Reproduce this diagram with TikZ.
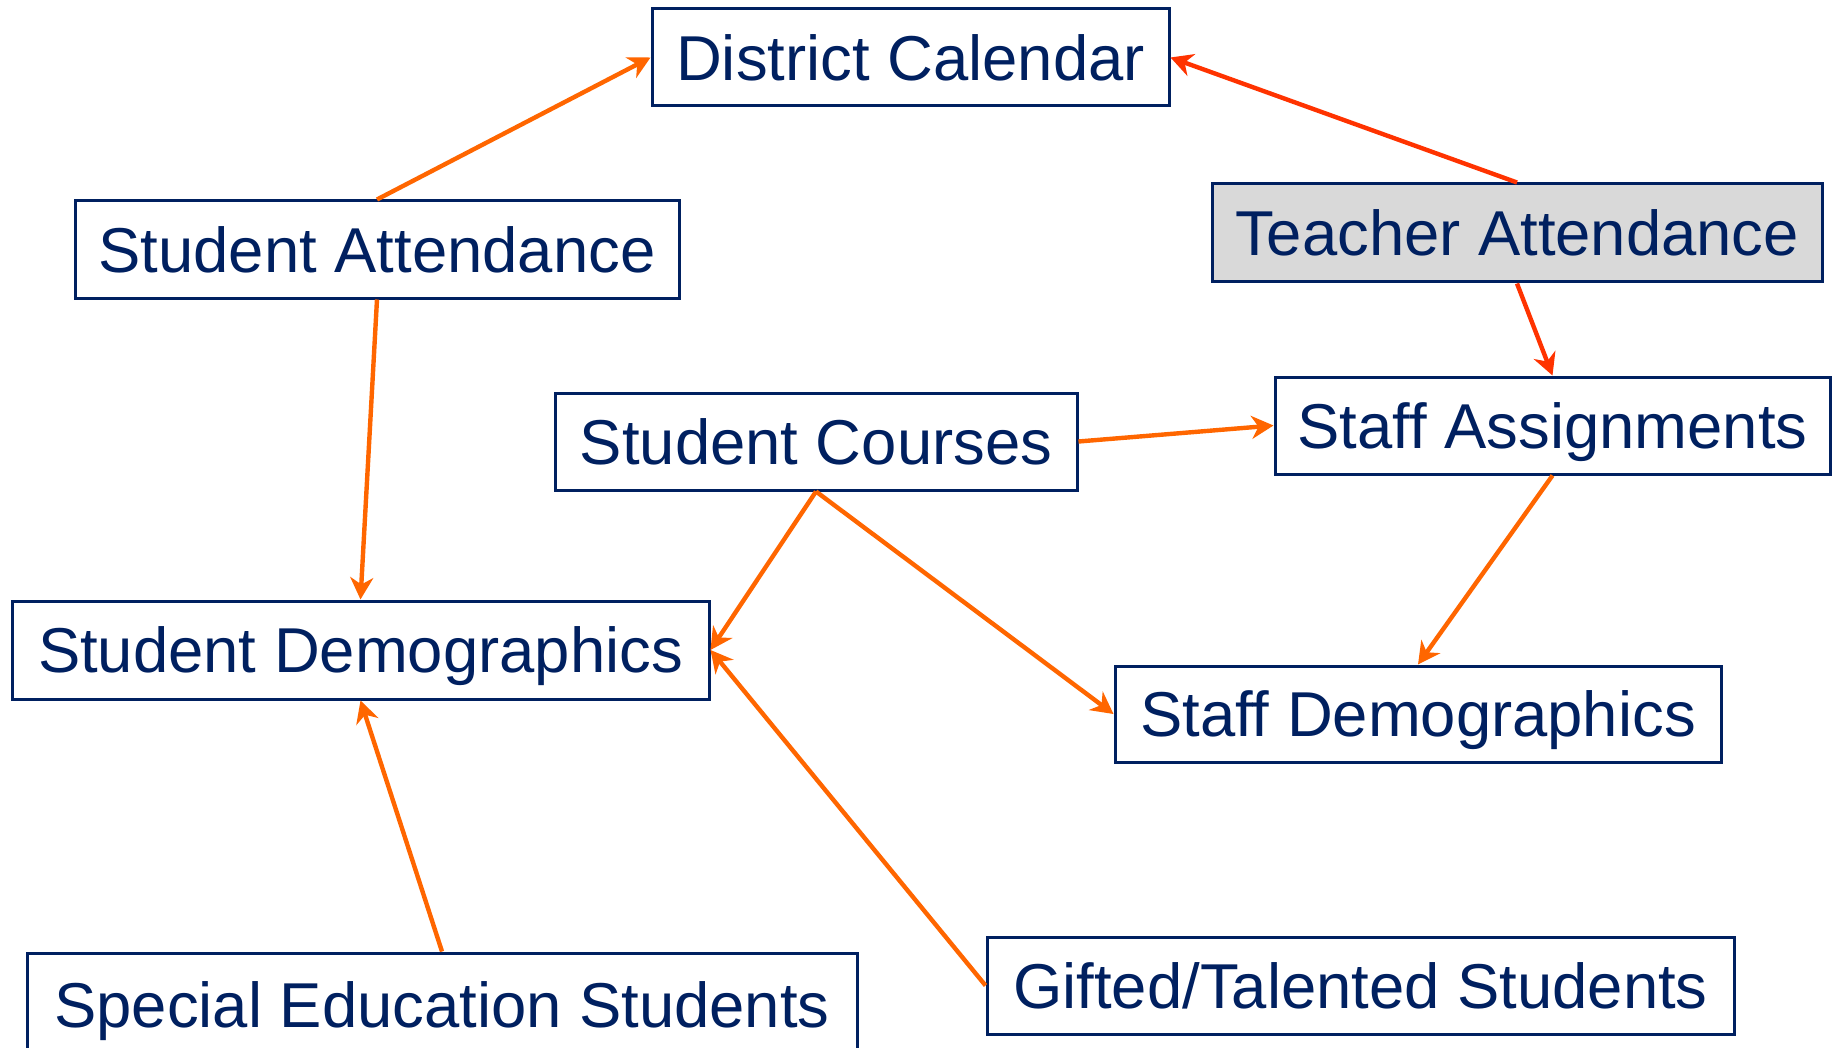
\documentclass[tikz,border=0pt]{standalone}
\usepackage{fontspec}
\setmainfont{Liberation Sans}
\usetikzlibrary{arrows.meta}
\definecolor{navy}{HTML}{002060}
\definecolor{boxgray}{HTML}{D9D9D9}
\definecolor{arrorange}{HTML}{FF6600}
\definecolor{arrred}{HTML}{FF3300}
\tikzset{
  box/.style={draw=navy, line width=1.5pt, fill=white, text=navy, inner sep=0pt,
    text depth=0pt, font=\fontsize{31.7}{36}\selectfont},
  conn/.style={line width=2.2pt, color=arrorange,
    -{Stealth[length=11pt,width=11.5pt,inset=3.5pt]}},
  connred/.style={conn, color=arrred}
}
\begin{document}
\begin{tikzpicture}[x=0.5pt,y=-0.5pt]
\useasboundingbox (0,0) rectangle (1841,1048);
\clip (0,0) rectangle (1841,1048);
\fill[white] (0,0) rectangle (1841,1048);

\node[box, minimum width=258.5pt, minimum height=48.5pt] (dc) at (910.5,57.5) {District Calendar};
\node[box, minimum width=302pt, minimum height=48.5pt] (sa) at (377,249.5) {Student Attendance};
\node[box, fill=boxgray, minimum width=305pt, minimum height=49pt] (ta) at (1517,233) {Teacher Attendance};
\node[box, minimum width=277.5pt, minimum height=48.5pt] (sta) at (1552.5,425.5) {Staff Assignments};
\node[box, minimum width=261pt, minimum height=48.5pt] (sc) at (816,441.5) {Student Courses};
\node[box, minimum width=348.5pt, minimum height=49pt] (sd) at (360.5,650) {Student Demographics};
\node[box, minimum width=303pt, minimum height=48pt] (std) at (1418,714) {Staff Demographics};
\node[box, minimum width=415pt, minimum height=52pt] (se) at (442,1005) {Special Education Students};
\node[box, minimum width=373.5pt, minimum height=48.5pt] (gt) at (1360.5,985.5) {Gifted/Talented Students};

\draw[conn] (sa.north) -- (dc.west);
\draw[connred] (ta.north) -- (dc.east);
\draw[connred] (ta.south) -- (sta.north);
\draw[conn] (sa.south) -- (sd.north);
\draw[conn] (sc.east) -- (sta.west);
\draw[conn] (sc.south) -- (sd.east);
\draw[conn] (sc.south) -- (std.west);
\draw[conn] (sta.south) -- (std.north);
\draw[conn] (se.north) -- (sd.south);
\draw[conn] (gt.west) -- (sd.east);
\end{tikzpicture}
\end{document}
